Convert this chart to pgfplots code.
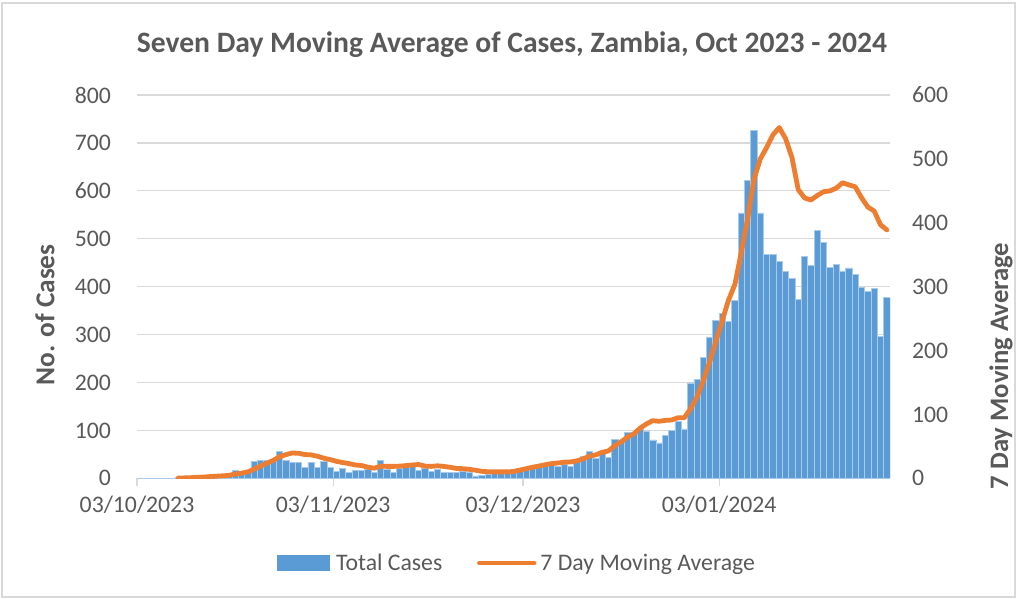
\documentclass[border=0pt]{standalone}
\usepackage{pgfplots}
\pgfplotsset{compat=1.18}
\usepackage{pgfplotstable}
\usepackage{fontspec}
\setmainfont{Carlito}
\definecolor{barblue}{HTML}{5B9BD5}
\definecolor{barline}{HTML}{A9CBEA}
\definecolor{maorange}{HTML}{ED7D31}
\definecolor{gridgray}{HTML}{D9D9D9}
\definecolor{txt}{HTML}{595959}

\pgfplotstableread{
d cases ma
0 0 nan
1 0 nan
2 0 nan
3 0 nan
4 0 nan
5 0 nan
6 2 0.3
7 3 0.7
8 2 1.0
9 4 1.6
10 3 2.0
11 5 2.7
12 4 3.3
13 6 3.9
14 8 4.6
15 16 6.6
16 15 8.1
17 16 10.0
18 36 14.4
19 37 19.1
20 37 23.6
21 38 27.9
22 57 33.7
23 38 37.0
24 34 39.6
25 34 39.3
26 23 37.3
27 33 36.7
28 23 34.6
29 36 31.6
30 23 29.4
31 15 26.7
32 20 24.7
33 12 23.1
34 17 20.9
35 17 20.0
36 18 17.4
37 12 15.9
38 37 19.0
39 18 18.7
40 12 18.7
41 20 19.1
42 22 19.9
43 25 20.9
44 17 21.6
45 20 19.1
46 15 18.7
47 18 19.6
48 13 18.6
49 13 17.3
50 12 15.4
51 15 15.1
52 13 14.1
53 5 12.7
54 6 11.0
55 8 10.3
56 12 10.1
57 12 10.1
58 15 10.1
59 17 10.7
60 20 12.9
61 22 15.1
62 24 17.4
63 24 19.1
64 27 21.3
65 27 23.0
66 24 24.0
67 29 25.3
68 24 25.6
69 36 27.3
70 46 30.4
71 57 34.7
72 41 36.7
73 52 40.7
74 44 42.9
75 81 51.0
76 79 57.1
77 96 64.3
78 94 69.6
79 103 78.4
80 99 85.1
81 80 90.3
82 74 89.3
83 89 90.7
84 100 91.3
85 119 94.9
86 103 94.9
87 199 109.1
88 207 127.3
89 253 152.9
90 295 182.3
91 330 215.1
92 344 247.3
93 328 279.4
94 372 304.1
95 554 353.7
96 622 406.4
97 726 468.0
98 554 500.0
99 468 517.7
100 468 537.7
101 452 549.1
102 431 531.6
103 417 502.3
104 373 451.9
105 463 438.9
106 445 435.6
107 518 442.7
108 493 448.6
109 440 449.9
110 447 454.1
111 433 462.7
112 439 459.3
113 425 456.4
114 398 439.3
115 390 424.6
116 397 418.4
117 296 396.9
118 377 388.9
}\data

\begin{document}
\begin{tikzpicture}
\useasboundingbox (0pt,0pt) rectangle (762.75pt,449.25pt);
\draw[gridgray, line width=1pt] (1.5pt,1.5pt) rectangle (761.25pt,447pt);
\pgfplotsset{
  common/.style={
    scale only axis, width=564.75pt, height=287.5pt,
    at={(102.75pt,90.5pt)}, anchor=south west,
    xmin=-0.5, xmax=118.5,
    /pgf/number format/assume math mode=true,
    tick label style={font=\fontsize{17.8}{20}\selectfont, text=txt},
  }
}
\begin{axis}[common,
  ymin=0, ymax=800, ytick={0,100,...,800},
  axis lines*=left,
  y axis line style={draw=none},
  x axis line style={-, gridgray, line width=0.9pt},
  ytick style={draw=none},
  ymajorgrids, grid style={gridgray, line width=0.9pt},
  xtick={-0.5,30.5,60.5,91.5},
  xticklabels={03/10/2023,03/11/2023,03/12/2023,03/01/2024},
  xtick style={gridgray, line width=0.9pt},
  tick align=outside, major tick length=6pt,
  yticklabel style={xshift=-10pt},
  xticklabel style={yshift=-4pt},
]
\addplot[ybar, bar width=1, bar shift=0pt, fill=barblue, draw=barline, line width=0.5pt]
  table[x=d, y=cases]{\data};
\end{axis}
\begin{axis}[common,
  ymin=0, ymax=600, ytick={0,100,...,600},
  axis x line=none, axis y line*=right,
  y axis line style={draw=none}, ytick style={draw=none},
  yticklabel style={xshift=13pt},
  legend style={at={(0.505,-0.221)}, anchor=center, draw=none, fill=none,
    font=\fontsize{17.8}{20}\selectfont, text=txt, legend columns=2,
    /tikz/every even column/.append style={column sep=24pt}},
  legend cell align=left,
]
\addlegendimage{legend image code/.code={\fill[barblue] (0pt,-5.6pt) rectangle (39pt,5.6pt); \path (42pt,0pt);}}
\addlegendentry{Total Cases}
\addplot[maorange, line width=3.6pt, line join=round, line cap=round,
  legend image code/.code={\draw[maorange, line width=3.6pt, line cap=round] (1pt,0pt) -- (42pt,0pt); \path (43pt,0pt);}]
  table[x=d, y=ma]{\data};
\addlegendentry{7 Day Moving Average}
\end{axis}
\node[text=txt, font=\fontsize{22.2}{25}\selectfont\bfseries] at (384pt,415.5pt) {Seven Day Moving Average of Cases, Zambia, Oct 2023 - 2024};
\node[text=txt, font=\fontsize{20.5}{22}\selectfont\bfseries, rotate=90] at (33.75pt,213pt) {No. of Cases};
\node[text=txt, font=\fontsize{20}{22}\selectfont\bfseries, rotate=90] at (750.75pt,174.75pt) {7 Day Moving Average};
\end{tikzpicture}
\end{document}
